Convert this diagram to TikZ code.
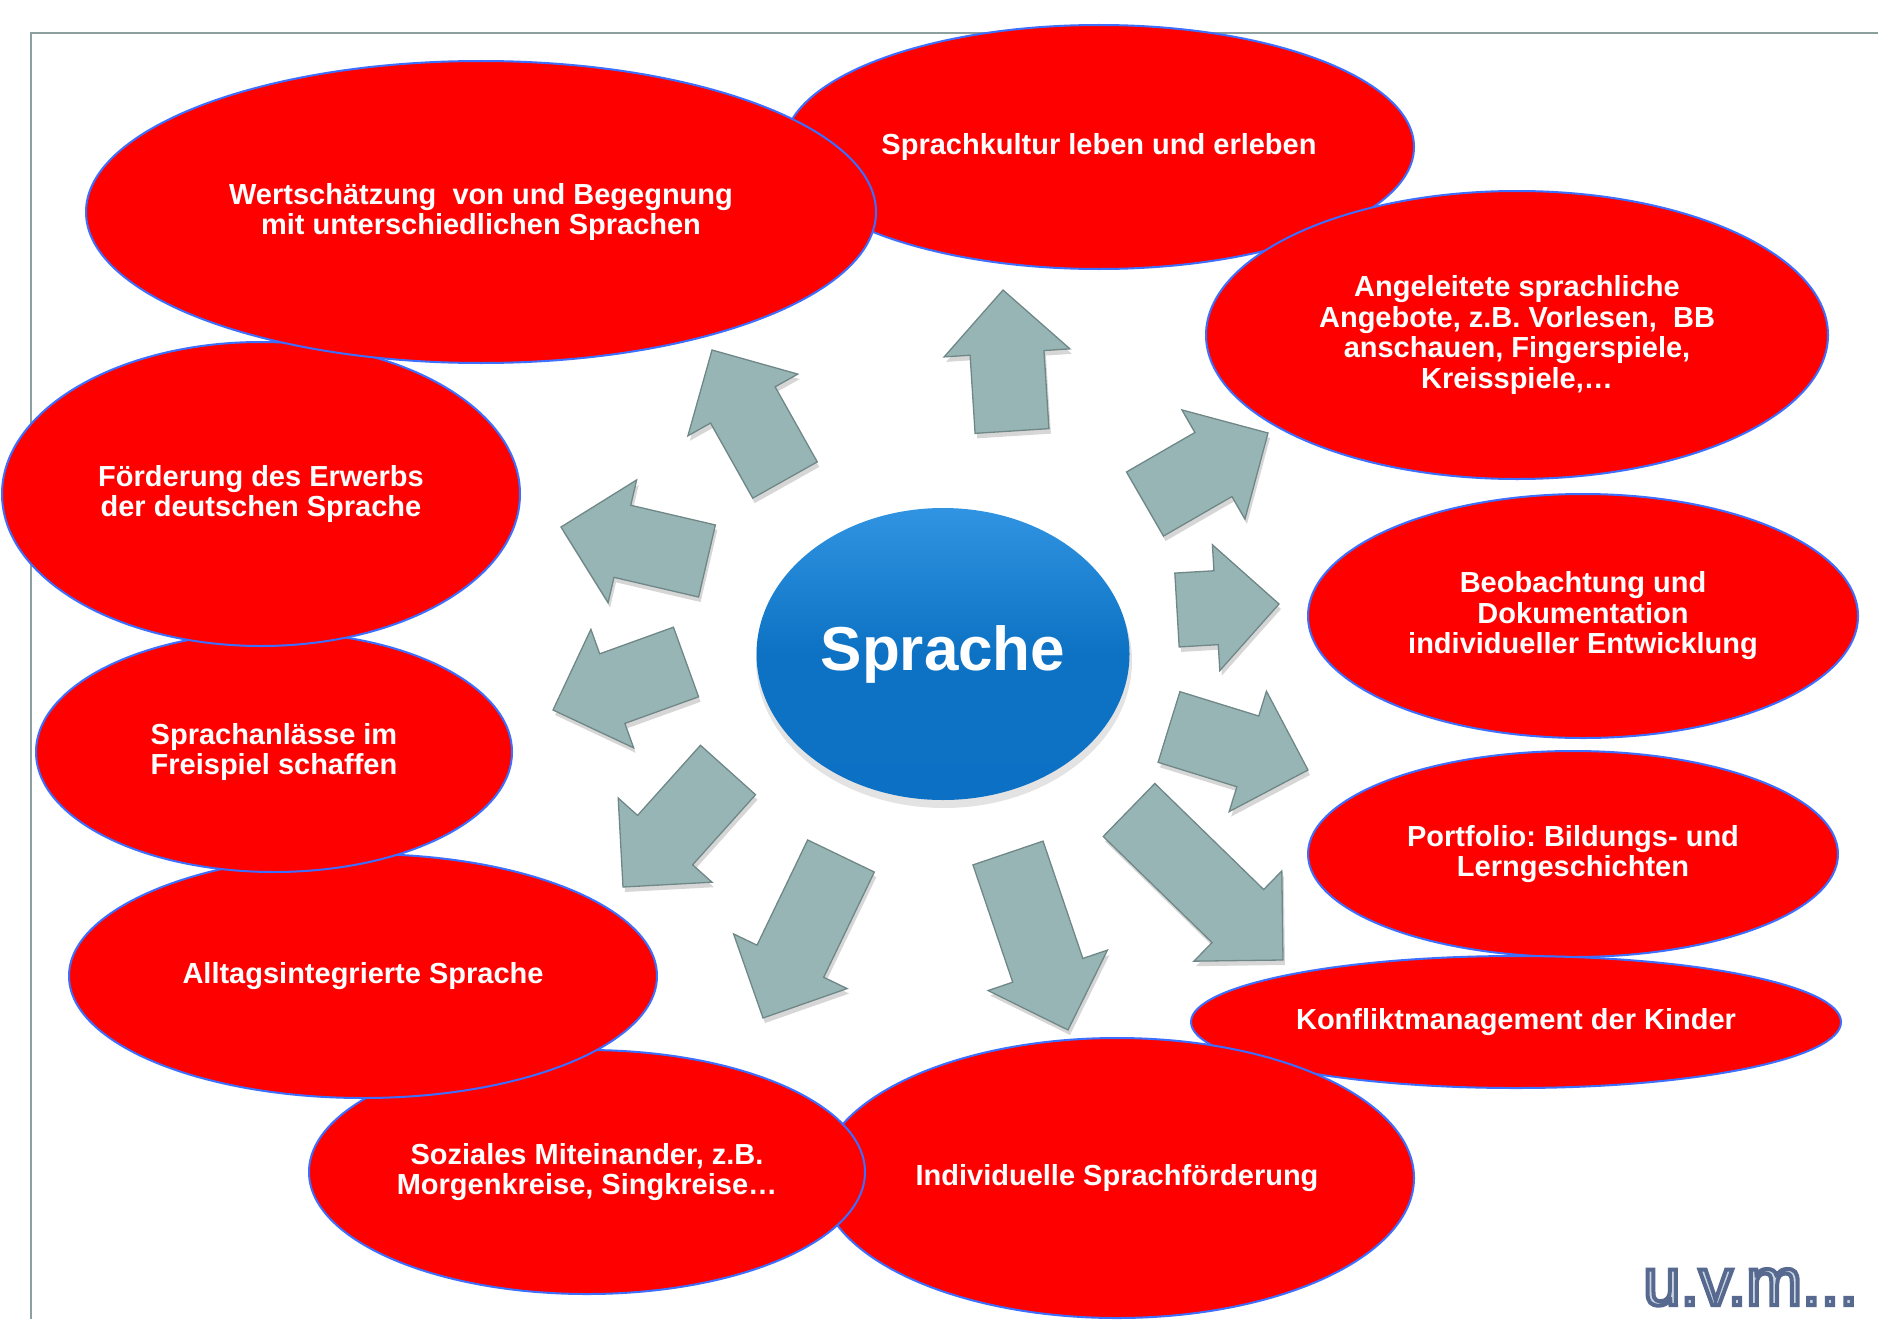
\documentclass[tikz,border=0pt]{standalone}
\usepackage{fontspec}
\setmainfont{Liberation Sans}
\usetikzlibrary{shapes.geometric,calc}
\frenchspacing
\definecolor{bubred}{RGB}{255,0,0}
\definecolor{bubline}{RGB}{60,110,255}
\definecolor{arrfill}{RGB}{152,181,182}
\definecolor{arrline}{RGB}{112,135,135}
\definecolor{framecol}{RGB}{140,160,160}
\definecolor{logofill}{RGB}{200,213,226}
\definecolor{spratop}{RGB}{48,148,226}
\definecolor{spramid}{RGB}{14,114,196}
\definecolor{sprabot}{RGB}{12,112,196}
\tikzset{
  bub/.style={ellipse, draw=bubline, line width=2pt, fill=bubred, text=white,
    font=\bfseries\fontsize{29}{30.5}\selectfont, align=center, inner sep=0pt},
  arrbody/.style={fill=arrfill, draw=arrline, line width=1.3pt, line join=miter},
  arrshadow/.style={fill=black, opacity=0.16},
}
\newcommand\blockarr[2]{%
  \path let \p1=($(#2)-(#1)$) in \pgfextra{%
    \pgfmathparse{atan2(\y1,\x1)}\xdef\arrang{\pgfmathresult}%
    \pgfmathparse{veclen(\x1,\y1)}\xdef\arrlen{\pgfmathresult}%
    \pgfmathparse{\arrlen-63}\xdef\arrhb{\pgfmathresult}};
  \begin{scope}[shift={(#1)},shift={(2pt,-5pt)},rotate=\arrang]
    \fill[arrshadow] (0pt,-37pt) -- (\arrhb pt,-37pt) -- (\arrhb pt,-63pt) -- (\arrlen pt,0pt)
      -- (\arrhb pt,63pt) -- (\arrhb pt,37pt) -- (0pt,37pt) -- cycle;
  \end{scope}
  \begin{scope}[shift={(#1)},rotate=\arrang]
    \draw[arrbody] (0pt,-37pt) -- (\arrhb pt,-37pt) -- (\arrhb pt,-63pt) -- (\arrlen pt,0pt)
      -- (\arrhb pt,63pt) -- (\arrhb pt,37pt) -- (0pt,37pt) -- cycle;
  \end{scope}}
\begin{document}
\begin{tikzpicture}[x=1pt,y=-1pt]
\useasboundingbox (0,0) rectangle (1878,1319);
\fill[white] (0,0) rectangle (1878,1319);
\draw[framecol, line width=2pt] (31,1319) -- (31,33) -- (1878,33);

% ellipses (clockwise from top, later ones on top)
\node[bub, minimum width=630pt, minimum height=244pt] (kultur) at (1099,147) {Sprachkultur leben und erleben};
\node[bub, minimum width=622pt, minimum height=288pt] (angel) at (1517,335) {Angeleitete sprachliche\\Angebote, z.B. Vorlesen,~ BB\\anschauen, Fingerspiele,\\Kreisspiele,…};
\node[bub, minimum width=550pt, minimum height=244pt] (beob) at (1583,616) {Beobachtung und\\Dokumentation\\individueller Entwicklung};
\node[bub, minimum width=530pt, minimum height=206pt] (port) at (1573,854) {Portfolio: Bildungs- und\\Lerngeschichten};
\node[bub, minimum width=650pt, minimum height=132pt] (konf) at (1516,1022) {Konfliktmanagement der Kinder};
\node[bub, minimum width=594pt, minimum height=280pt] (indiv) at (1117,1178) {Individuelle Sprachförderung};
\node[bub, minimum width=556pt, minimum height=244pt] (sozial) at (587,1172) {Soziales Miteinander, z.B.\\Morgenkreise, Singkreise…};
\node[bub, minimum width=588pt, minimum height=244pt] (alltag) at (363,976) {Alltagsintegrierte Sprache};
\node[bub, minimum width=476pt, minimum height=240pt] (anlass) at (274,752) {Sprachanlässe im\\Freispiel schaffen};
\node[bub, minimum width=518pt, minimum height=304pt] (foerd) at (261,494) {Förderung des Erwerbs\\der deutschen Sprache};
\node[bub, minimum width=790pt, minimum height=302pt] (wert) at (481,212) {Wertschätzung~ von und Begegnung\\mit unterschiedlichen Sprachen};

% arrows
\coordinate (a1t) at (1012,431);  \coordinate (a1h) at (1003,290);
\coordinate (a2t) at (785,480);   \coordinate (a2h) at (712,350);
\coordinate (a3t) at (707,561);   \coordinate (a3h) at (561,527);
\coordinate (a4t) at (1145,504);  \coordinate (a4h) at (1268,433);
\coordinate (a5t) at (1177,610);  \coordinate (a5h) at (1279,604);
\coordinate (a6t) at (1169,727);  \coordinate (a6h) at (1308,770);
\coordinate (a7t) at (1129,810);  \coordinate (a7h) at (1283,960);
\coordinate (a8t) at (1008,853);  \coordinate (a8h) at (1068,1030);
\coordinate (a9t) at (841,856);   \coordinate (a9h) at (763,1018);
\coordinate (a10t) at (728,770);  \coordinate (a10h) at (623,887);
\coordinate (a11t) at (686,662);  \coordinate (a11h) at (553,710);
\blockarr{a1t}{a1h}
\blockarr{a2t}{a2h}
\blockarr{a3t}{a3h}
\blockarr{a4t}{a4h}
\blockarr{a5t}{a5h}
\blockarr{a6t}{a6h}
\blockarr{a7t}{a7h}
\blockarr{a8t}{a8h}
\blockarr{a9t}{a9h}
\blockarr{a10t}{a10h}
\blockarr{a11t}{a11h}

% centre
\fill[black, opacity=0.11] (944,661) ellipse [x radius=188pt, y radius=147pt];
\node[ellipse, minimum width=373pt, minimum height=292pt, inner sep=0pt,
  shading=axis, top color=spratop, bottom color=sprabot, middle color=spramid,
  text=white, font=\bfseries\fontsize{62}{62}\selectfont] (sprache) at (943,654) {Sprache};

% logo
\node[anchor=base west, inner sep=0pt, text=logofill, font=\fontsize{67}{67}\selectfont] (logo) at (1643,1305)
  {\special{pdf:literal direct 0.34 0.41 0.56 RG 4 w 2 Tr}u.v.m...\special{pdf:literal direct 0 Tr}};
\end{tikzpicture}
\end{document}
